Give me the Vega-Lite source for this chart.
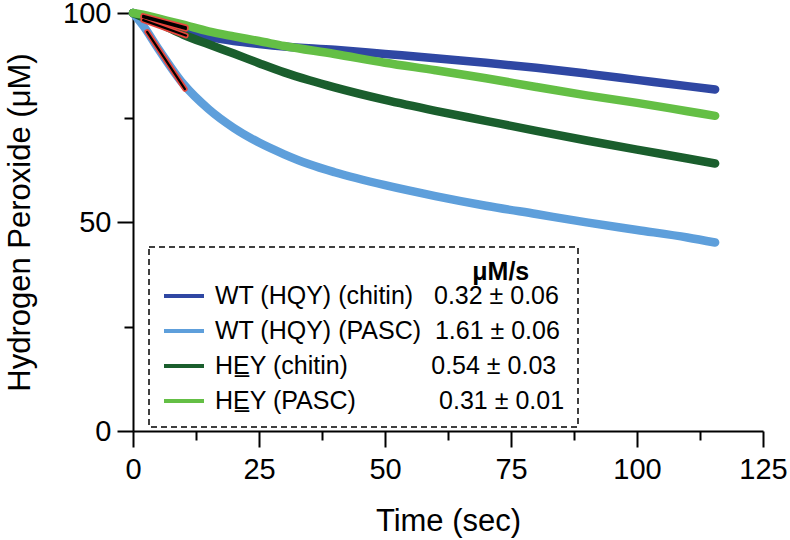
{
  "$schema": "https://vega.github.io/schema/vega-lite/v6.json",
  "width": 630,
  "height": 418,
  "autosize": "none",
  "padding": {"left": 133, "top": 13, "right": 27, "bottom": 109},
  "background": "white",
  "config": {
    "view": {"stroke": null},
    "font": "Liberation Sans",
    "axis": {
      "grid": false,
      "domainColor": "black",
      "domainWidth": 2,
      "tickColor": "black",
      "tickWidth": 2,
      "tickSize": 16,
      "labelColor": "black",
      "titleColor": "black",
      "labelFont": "Liberation Sans",
      "titleFont": "Liberation Sans",
      "labelFontSize": 29,
      "titleFontSize": 31,
      "titleFontWeight": "normal",
      "labelFlush": false
    },
    "legend": {"strokeDash": [6, 4], "strokeWidth": 1.5}
  },
  "datasets": {
    "curves": [
      {"s": "WT (HQY) (PASC)", "t": 0, "v": 100}, {"s": "WT (HQY) (PASC)", "t": 2, "v": 97}, {"s": "WT (HQY) (PASC)", "t": 5, "v": 91.5}, {"s": "WT (HQY) (PASC)", "t": 10, "v": 83}, {"s": "WT (HQY) (PASC)", "t": 15, "v": 77}, {"s": "WT (HQY) (PASC)", "t": 20, "v": 72.5}, {"s": "WT (HQY) (PASC)", "t": 25, "v": 69}, {"s": "WT (HQY) (PASC)", "t": 30, "v": 66.2}, {"s": "WT (HQY) (PASC)", "t": 35, "v": 63.8}, {"s": "WT (HQY) (PASC)", "t": 40, "v": 61.9}, {"s": "WT (HQY) (PASC)", "t": 50, "v": 58.8}, {"s": "WT (HQY) (PASC)", "t": 60, "v": 56.2}, {"s": "WT (HQY) (PASC)", "t": 70, "v": 53.9}, {"s": "WT (HQY) (PASC)", "t": 80, "v": 51.9}, {"s": "WT (HQY) (PASC)", "t": 90, "v": 49.9}, {"s": "WT (HQY) (PASC)", "t": 100, "v": 48.1}, {"s": "WT (HQY) (PASC)", "t": 110, "v": 46.3}, {"s": "WT (HQY) (PASC)", "t": 115.5, "v": 45.1},
      {"s": "WT (HQY) (chitin)", "t": 0, "v": 100}, {"s": "WT (HQY) (chitin)", "t": 2, "v": 99.3}, {"s": "WT (HQY) (chitin)", "t": 5, "v": 97.8}, {"s": "WT (HQY) (chitin)", "t": 10, "v": 95.8}, {"s": "WT (HQY) (chitin)", "t": 15, "v": 94.3}, {"s": "WT (HQY) (chitin)", "t": 20, "v": 93.3}, {"s": "WT (HQY) (chitin)", "t": 25, "v": 92.6}, {"s": "WT (HQY) (chitin)", "t": 30, "v": 92.0}, {"s": "WT (HQY) (chitin)", "t": 40, "v": 91.2}, {"s": "WT (HQY) (chitin)", "t": 50, "v": 90.2}, {"s": "WT (HQY) (chitin)", "t": 60, "v": 89.2}, {"s": "WT (HQY) (chitin)", "t": 70, "v": 88.1}, {"s": "WT (HQY) (chitin)", "t": 80, "v": 86.9}, {"s": "WT (HQY) (chitin)", "t": 90, "v": 85.5}, {"s": "WT (HQY) (chitin)", "t": 100, "v": 84.0}, {"s": "WT (HQY) (chitin)", "t": 110, "v": 82.5}, {"s": "WT (HQY) (chitin)", "t": 115.5, "v": 81.7},
      {"s": "HEY (chitin)", "t": 0, "v": 100}, {"s": "HEY (chitin)", "t": 2, "v": 99}, {"s": "HEY (chitin)", "t": 5, "v": 97.6}, {"s": "HEY (chitin)", "t": 10, "v": 94.8}, {"s": "HEY (chitin)", "t": 15, "v": 92.5}, {"s": "HEY (chitin)", "t": 20, "v": 90.3}, {"s": "HEY (chitin)", "t": 25, "v": 88}, {"s": "HEY (chitin)", "t": 30, "v": 85.8}, {"s": "HEY (chitin)", "t": 35, "v": 83.9}, {"s": "HEY (chitin)", "t": 40, "v": 82.2}, {"s": "HEY (chitin)", "t": 50, "v": 79.2}, {"s": "HEY (chitin)", "t": 60, "v": 76.6}, {"s": "HEY (chitin)", "t": 70, "v": 74.2}, {"s": "HEY (chitin)", "t": 80, "v": 71.8}, {"s": "HEY (chitin)", "t": 90, "v": 69.5}, {"s": "HEY (chitin)", "t": 100, "v": 67.3}, {"s": "HEY (chitin)", "t": 110, "v": 65.2}, {"s": "HEY (chitin)", "t": 115.5, "v": 64.0},
      {"s": "HEY (PASC)", "t": 0, "v": 100}, {"s": "HEY (PASC)", "t": 2, "v": 99.6}, {"s": "HEY (PASC)", "t": 5, "v": 98.7}, {"s": "HEY (PASC)", "t": 10, "v": 97.2}, {"s": "HEY (PASC)", "t": 15, "v": 95.6}, {"s": "HEY (PASC)", "t": 20, "v": 94.4}, {"s": "HEY (PASC)", "t": 25, "v": 93.3}, {"s": "HEY (PASC)", "t": 30, "v": 92.1}, {"s": "HEY (PASC)", "t": 40, "v": 90.2}, {"s": "HEY (PASC)", "t": 50, "v": 88.1}, {"s": "HEY (PASC)", "t": 60, "v": 86.3}, {"s": "HEY (PASC)", "t": 70, "v": 84.4}, {"s": "HEY (PASC)", "t": 80, "v": 82.3}, {"s": "HEY (PASC)", "t": 90, "v": 80.3}, {"s": "HEY (PASC)", "t": 100, "v": 78.5}, {"s": "HEY (PASC)", "t": 110, "v": 76.5}, {"s": "HEY (PASC)", "t": 115.5, "v": 75.4}
    ],
    "fits": [
      {"f": "HEY (PASC)", "t": 2, "v": 99.3}, {"f": "HEY (PASC)", "t": 10.5, "v": 96.6},
      {"f": "WT (HQY) (chitin)", "t": 2, "v": 99.0}, {"f": "WT (HQY) (chitin)", "t": 10.5, "v": 96.2},
      {"f": "HEY (chitin)", "t": 2, "v": 98.3}, {"f": "HEY (chitin)", "t": 10.5, "v": 94.6},
      {"f": "WT (HQY) (PASC)", "t": 2.8, "v": 95.5}, {"f": "WT (HQY) (PASC)", "t": 10.3, "v": 81.8}
    ]
  },
  "resolve": {"axis": {"x": "independent", "y": "independent"}},
  "layer": [
    {
      "data": {"name": "curves"},
      "mark": {"type": "line", "strokeWidth": 8.5, "strokeCap": "round", "strokeJoin": "round", "interpolate": "monotone"},
      "encoding": {
        "x": {
          "field": "t", "type": "quantitative",
          "scale": {"domain": [0, 125], "nice": false},
          "axis": {"orient": "bottom", "values": [0, 25, 50, 75, 100, 125], "title": "Time (sec)", "labelPadding": 8, "titlePadding": 22}
        },
        "y": {
          "field": "v", "type": "quantitative",
          "scale": {"domain": [0, 100], "nice": false, "zero": false},
          "axis": {"orient": "left", "values": [0, 50, 100], "title": "Hydrogen Peroxide (μM)", "labelPadding": 6, "titlePadding": 26}
        },
        "color": {
          "field": "s", "type": "nominal",
          "scale": {
            "domain": ["WT (HQY) (chitin)", "WT (HQY) (PASC)", "HEY (chitin)", "HEY (PASC)"],
            "range": ["#2f47a3", "#5e9fdb", "#1a5e2d", "#64bf45"]
          },
          "legend": {
            "orient": "none",
            "legendX": 16,
            "legendY": 234,
            "padding": 13,
            "strokeColor": "black",
            "title": "μM/s\u00a0\u00a0\u00a0\u00a0\u00a0\u200b",
            "titleAnchor": "end",
            "titleFontSize": 25,
            "titleFontWeight": "bold",
            "titleColor": "black",
            "titlePadding": -11,
            "labelFontSize": 25,
            "labelColor": "black",
            "labelLimit": 0,
            "labelOffset": 9,
            "symbolType": "stroke",
            "symbolSize": 1600,
            "symbolStrokeWidth": 4,
            "rowPadding": -4,
            "labelExpr": "datum.label == 'WT (HQY) (chitin)' ? 'WT (HQY) (chitin)\u00a0\u00a0\u00a00.32 ± 0.06' : datum.label == 'WT (HQY) (PASC)' ? 'WT (HQY) (PASC)\u00a0\u00a01.61 ± 0.06' : datum.label == 'HEY (chitin)' ? 'HE\u0332Y (chitin)\u00a0\u00a0\u00a0\u00a0\u00a0\u00a0\u00a0\u00a0\u00a0\u00a0\u00a0\u00a00.54 ± 0.03' : 'HE\u0332Y (PASC)\u00a0\u00a0\u00a0\u00a0\u00a0\u00a0\u00a0\u00a0\u00a0\u00a0\u00a0\u00a00.31 ± 0.01'"
          }
        }
      }
    },
    {
      "data": {"name": "fits"},
      "mark": {"type": "line", "stroke": "#e8443c", "strokeWidth": 5.5, "strokeCap": "round"},
      "encoding": {
        "x": {"field": "t", "type": "quantitative", "axis": {"orient": "bottom", "values": [12.5, 37.5, 62.5, 87.5, 112.5], "labels": false, "domain": false, "tickSize": 9, "title": null}},
        "y": {"field": "v", "type": "quantitative", "axis": {"orient": "left", "values": [25, 75], "labels": false, "domain": false, "tickSize": 9, "title": null}},
        "detail": {"field": "f", "type": "nominal"}
      }
    },
    {
      "data": {"name": "fits"},
      "mark": {"type": "line", "stroke": "black", "strokeWidth": 2.2, "strokeCap": "round"},
      "encoding": {
        "x": {"field": "t", "type": "quantitative", "axis": null},
        "y": {"field": "v", "type": "quantitative", "axis": null},
        "detail": {"field": "f", "type": "nominal"}
      }
    }
  ]
}
